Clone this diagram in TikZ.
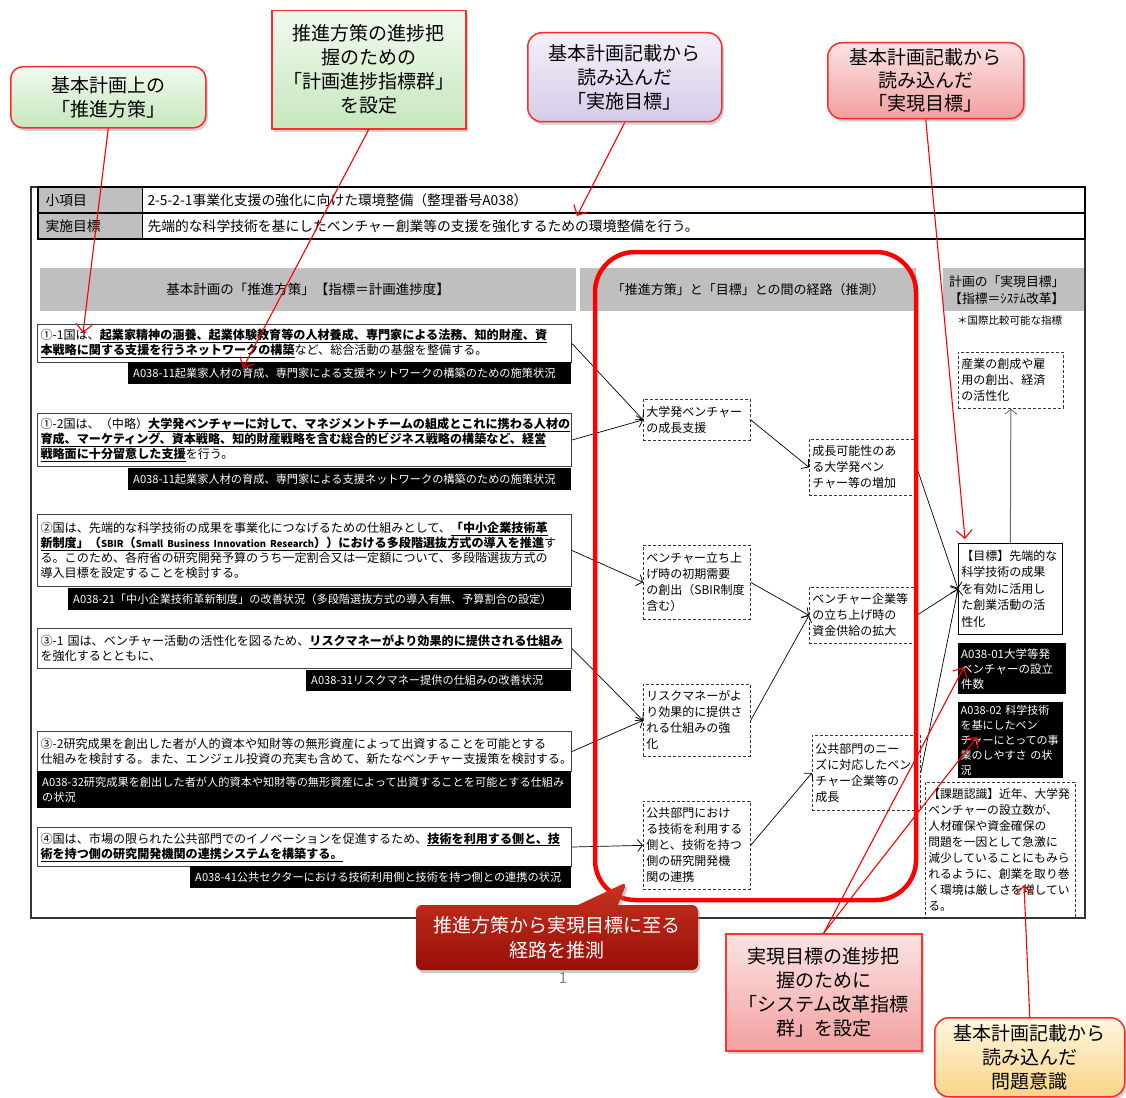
\documentclass[tikz,border=0pt]{standalone}
\usepackage{fontspec}
\setmainfont{Noto Sans CJK JP}
\usetikzlibrary{arrows.meta,shadows,shapes.callouts}
\definecolor{hdrgray}{HTML}{BFBFBF}
\definecolor{cborder}{HTML}{FF2A2A}
\definecolor{gtop}{HTML}{F1FAEE}\definecolor{gbot}{HTML}{C6E7BD}
\definecolor{ptop}{HTML}{F4F0FA}\definecolor{pbot}{HTML}{D5CBE8}
\definecolor{rtop}{HTML}{FCE3E3}\definecolor{rbot}{HTML}{F2A0A0}
\definecolor{ytop}{HTML}{FFF6DE}\definecolor{ybot}{HTML}{FAD48A}
\definecolor{dtop}{HTML}{C8331F}\definecolor{dbot}{HTML}{980F08}
\newcommand{\bu}[1]{\underline{\textbf{#1}}}
\begin{document}
\begin{tikzpicture}[x=1pt,y=-1pt,
  lbox/.style={draw=black!75,line width=1pt,fill=white,anchor=north west,align=left,inner xsep=3pt,inner ysep=2pt,text width=528pt,font=\fontsize{12.1}{15}\selectfont},
  mbox/.style={draw=black!80,line width=0.7pt,dash pattern=on 3pt off 2pt,fill=white,anchor=north west,align=left,inner xsep=3pt,inner ysep=2pt,font=\fontsize{12}{16}\selectfont},
  bar/.style={fill=black,text=white,anchor=north west,align=left,inner xsep=5pt,inner ysep=2pt,font=\fontsize{11.2}{15}\selectfont},
  hdr/.style={fill=hdrgray,anchor=north west,inner sep=0pt,font=\fontsize{13.5}{16}\selectfont},
  cbase/.style={draw=cborder,line width=1.5pt,align=center,anchor=north west,inner sep=0pt,font=\fontsize{19}{24}\selectfont,drop shadow={opacity=0.35,shadow xshift=2pt,shadow yshift=-3pt}},
  conn/.style={line width=0.7pt,-{Straight Barb[length=5pt,width=12pt,line width=0.8pt]}},
  rarr/.style={draw=red,line width=1.1pt,-{Straight Barb[length=8pt,width=16pt,line width=1.1pt]}}
]
\useasboundingbox (0,0) rectangle (1126,1097);
\fill[white] (0,0) rectangle (1126,1097);

% outer frame and table
\draw[line width=1.5pt,black!80] (31,187) rectangle (1085,918);
\fill[hdrgray] (38,187) rectangle (142,239);
\draw[line width=1.5pt] (38,187) rectangle (1085,239);
\draw[line width=1.5pt] (38,213) -- (1085,213);
\draw[line width=1pt] (142,187) -- (142,239);
\node[anchor=west,font=\fontsize{13.8}{16}\selectfont] (lab1) at (42,200) {小項目};
\node[anchor=west,font=\fontsize{13.8}{16}\selectfont] (lab2) at (42,226) {実施目標};
\node[anchor=west,font=\fontsize{13.8}{16}\selectfont] (val1) at (144,200) {2-5-2-1事業化支援の強化に向けた環境整備（整理番号A038）};
\node[anchor=west,font=\fontsize{13.8}{16}\selectfont] (val2) at (144,226) {先端的な科学技術を基にしたベンチャー創業等の支援を強化するための環境整備を行う。};

% column headers
\node[hdr,minimum width=536pt,minimum height=43pt] (h1) at (40,268) {基本計画の「推進方策」【指標＝計画進捗度】};
\node[hdr,minimum width=336pt,minimum height=43pt,font=\fontsize{13}{16}\selectfont] (h2) at (580,268) {「推進方策」と「目標」との間の経路（推測）};
\node[hdr,minimum width=141pt,minimum height=43pt,align=left,text width=129pt,inner xsep=6pt,font=\fontsize{12.8}{17}\selectfont] (h3) at (943,268) {計画の「実現目標」\\【指標＝ｼｽﾃﾑ改革】};
\node[anchor=north west,inner sep=0pt,font=\fontsize{10.5}{13}\selectfont] (note) at (957,315) {＊国際比較可能な指標};

% left boxes
\node[lbox,minimum height=38pt] (b1) at (37,324) {①-1国は、\bu{起業家精神の涵養、起業体験教育等の人材養成、専門家による法務、知的財産、資}\\\bu{本戦略に関する支援を行うネットワークの構築}など、総合活動の基盤を整備する。};
\node[bar,text width=433pt,minimum height=22pt] (k1) at (128,362) {A038-11起業家人材の育成、専門家による支援ネットワークの構築のための施策状況};

\node[lbox,minimum height=53pt] (b2) at (37,413) {①-2国は、（中略）\bu{大学発ベンチャーに対して、マネジメントチームの組成とこれに携わる人材の}\\\bu{育成、マーケティング、資本戦略、知的財産戦略を含む総合的ビジネス戦略の構築など、経営}\\\bu{戦略面に十分留意した支援}を行う。};
\node[bar,text width=433pt,minimum height=22pt] (k2) at (128,468) {A038-11起業家人材の育成、専門家による支援ネットワークの構築のための施策状況};

\node[lbox,minimum height=72pt] (b3) at (37,514) {②国は、先端的な科学技術の成果を事業化につなげるための仕組みとして、\bu{「中小企業技術革}\\\bu{新制度」（{\fontsize{9.5}{12}\selectfont SBIR}（{\fontsize{9.5}{12}\selectfont Small Business Innovation Research}））における多段階選抜方式の導入を推進}す\\る。このため、各府省の研究開発予算のうち一定割合又は一定額について、多段階選抜方式の\\導入目標を設定することを検討する。};
\node[bar,text width=493pt,minimum height=22pt] (k3) at (68,588) {A038-21「中小企業技術革新制度」の改善状況（多段階選抜方式の導入有無、予算割合の設定）};

\node[lbox,minimum height=40pt] (b4) at (37,628) {③-1 国は、ベンチャー活動の活性化を図るため、\bu{リスクマネーがより効果的に提供される仕組み}\\を強化するとともに、};
\node[bar,text width=255pt,minimum height=21pt] (k4) at (306,670) {A038-31リスクマネー提供の仕組みの改善状況};

\node[lbox,minimum height=40pt] (b5) at (37,731) {③-2研究成果を創出した者が人的資本や知財等の無形資産によって出資することを可能とする\\仕組みを検討する。また、エンジェル投資の充実も含めて、新たなベンチャー支援策を検討する。};
\node[bar,text width=524pt,minimum height=37pt] (k5) at (37,771) {A038-32研究成果を創出した者が人的資本や知財等の無形資産によって出資することを可能とする仕組み\\の状況};

\node[lbox,minimum height=39pt] (b6) at (37,827) {④国は、市場の限られた公共部門でのイノベーションを促進するため、\bu{技術を利用する側と、技}\\\bu{術を持つ側の研究開発機関の連携システムを構築する。}};
\node[bar,text width=371pt,minimum height=22pt] (k6) at (190,866) {A038-41公共セクターにおける技術利用側と技術を持つ側との連携の状況};

% middle boxes
\node[mbox,text width=101pt,minimum height=41pt] (m1) at (643,399) {大学発ベンチャー\\の成長支援};
\node[mbox,text width=101pt,minimum height=56pt] (m2) at (809,439) {成長可能性のあ\\る大学発ベン\\チャー等の増加};
\node[mbox,text width=101pt,minimum height=74pt] (m3) at (643,545) {ベンチャー立ち上\\げ時の初期需要\\の創出（SBIR制度\\含む）};
\node[mbox,text width=101pt,minimum height=56pt] (m4) at (809,587) {ベンチャー企業等\\の立ち上げ時の\\資金供給の拡大};
\node[mbox,text width=101pt,minimum height=72pt] (m5) at (643,684) {リスクマネーがよ\\り効果的に提供さ\\れる仕組みの強\\化};
\node[mbox,text width=102pt,minimum height=75pt] (m6) at (812,735) {公共部門のニー\\ズに対応したベン\\チャー企業等の\\成長};
\node[mbox,text width=101pt,minimum height=88pt] (m7) at (643,801) {公共部門におけ\\る技術を利用する\\側と、技術を持つ\\側の研究開発機\\関の連携};

% right column
\node[mbox,text width=99pt,minimum height=56pt] (r1) at (958,352) {産業の創成や雇\\用の創出、経済\\の活性化};
\node[mbox,solid,draw=black,text width=98pt,minimum height=91pt,font=\fontsize{12}{16.5}\selectfont] (r2) at (958,543) {【目標】先端的な\\科学技術の成果\\を有効に活用し\\た創業活動の活\\性化};
\node[bar,inner xsep=3pt,text width=102pt,minimum height=51pt,font=\fontsize{11.5}{15}\selectfont] (r3) at (958,643) {A038-01大学等発\\ベンチャーの設立\\件数};
\node[bar,inner xsep=2.5pt,text width=100pt,minimum height=76pt,font=\fontsize{11}{15}\selectfont] (r4) at (958,702) {A038-02 科学技術\\を基にしたベン\\チャーにとっての事\\業のしやすさ の状\\況};
\node[mbox,text width=144pt,minimum height=135pt,font=\fontsize{11.8}{16}\selectfont] (r5) at (925,782) {【課題認識】近年、大学発\\ベンチャーの設立数が、\\人材確保や資金確保の\\問題を一因として急激に\\減少していることにもみら\\れるように、創業を取り巻\\く環境は厳しさを増してい\\る。};

% connectors
\draw[conn] (b1.east) -- (m1.west);
\draw[conn] (b2.east) -- (m1.west);
\draw[conn] (b3.east) -- (m3.west);
\draw[conn] (b4.east) -- (m5.west);
\draw[conn] (b5.east) -- (m5.west);
\draw[conn] (b6.east) -- (m7.west);
\draw[conn] (m1.east) -- (m2.west);
\draw[conn] (m3.east) -- (m4.west);
\draw[conn] (m5.east) -- (m4.west);
\draw[conn] (m7.east) -- (m6.west);
\draw[conn] (m2.east) -- (r2.west);
\draw[conn] (m4.east) -- (r2.west);
\draw[conn] (m6.east) -- (r2.west);
\draw[conn,draw=black!60,line width=1pt] (r2.north) -- (r1.south);

% red path frame
\draw[red,line width=4.5pt,rounded corners=40pt] (595,252) rectangle (916,900);

% page number
\node[text=gray,font=\fontsize{15}{15}\selectfont] (pg) at (563,978) {1};

% dark red callout
\coordinate (tipR) at (627,882);
\node[rectangle callout,callout absolute pointer={(tipR)},callout pointer width=40pt,rounded corners=6pt,top color=dtop,bottom color=dbot,draw=none,text=white,align=center,minimum width=282pt,minimum height=65pt,inner sep=0pt,font=\fontsize{19}{25}\selectfont,drop shadow={opacity=0.4,shadow xshift=2pt,shadow yshift=-3pt}] (cr) at (557,937.5) {推進方策から実現目標に至る\\経路を推測};

% red pointer targets
\coordinate (t1) at (83,333);
\coordinate (t2) at (243,368);
\coordinate (t3) at (577,216);
\coordinate (t4) at (965,539);
\coordinate (t5a) at (964,667);
\coordinate (t5b) at (977,737);
\coordinate (t6) at (1024,885);

% callouts
\node[cbase,rounded corners=12pt,top color=gtop,bottom color=gbot,minimum width=195pt,minimum height=61pt] (c1) at (10,66) {基本計画上の\\「推進方策」};
\node[cbase,top color=gtop,bottom color=gbot,minimum width=194pt,minimum height=118pt] (c2) at (271,10) {推進方策の進捗把\\握のための\\「計画進捗指標群」\\を設定};
\node[cbase,rounded corners=14pt,top color=ptop,bottom color=pbot,minimum width=194pt,minimum height=89pt] (c3) at (527,32) {基本計画記載から\\読み込んだ\\「実施目標」};
\node[cbase,rounded corners=14pt,top color=rtop,bottom color=rbot,minimum width=196pt,minimum height=76pt,font=\fontsize{19}{23}\selectfont] (c4) at (827,42) {基本計画記載から\\読み込んだ\\「実現目標」};
\node[cbase,top color=rtop,bottom color=rbot,minimum width=196pt,minimum height=117pt,draw=red!80] (c5) at (725,933) {実現目標の進捗把\\握のために\\「システム改革指標\\群」を設定};
\node[cbase,rounded corners=14pt,top color=ytop,bottom color=ybot,minimum width=190pt,minimum height=79pt] (c6) at (934,1017) {基本計画記載から\\読み込んだ\\問題意識};

\draw[rarr] (c1.south) -- (t1);
\draw[rarr] (c2.south) -- (t2);
\draw[rarr] (c3.south) -- (t3);
\draw[rarr] (c4.south) -- (t4);
\draw[rarr] (c5.north) -- (t5a);
\draw[rarr] (c5.north) -- (t5b);
\draw[rarr] (c6.north) -- (t6);
\end{tikzpicture}
\end{document}
